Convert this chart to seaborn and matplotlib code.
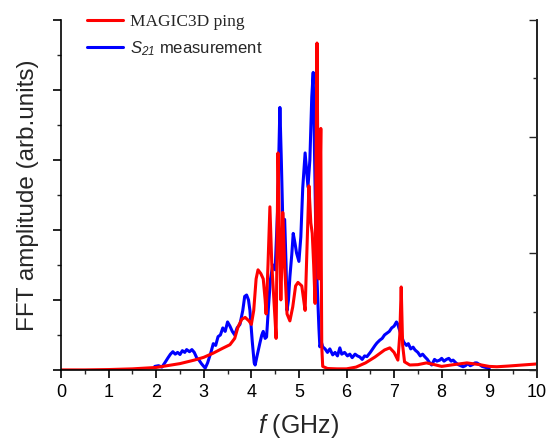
import matplotlib
matplotlib.use("Agg")
import matplotlib.pyplot as plt
import seaborn as sns
import pandas as pd
from matplotlib.ticker import MultipleLocator
from matplotlib.font_manager import FontProperties

# MAGIC3D ping (red)
sim_f = [0.0, 0.5, 1.0, 1.5, 2.0, 2.5, 2.8, 3.0, 3.2, 3.4, 3.55, 3.65, 3.72, 3.8, 3.87,
         3.95, 4.0, 4.05, 4.1, 4.14, 4.2, 4.25, 4.29, 4.31, 4.35, 4.39, 4.43, 4.5, 4.52,
         4.54, 4.56, 4.59, 4.62, 4.64, 4.66, 4.7, 4.75, 4.81, 4.87, 4.93, 4.98, 5.06, 5.1,
         5.13, 5.17, 5.21, 5.25, 5.28, 5.31, 5.34, 5.36, 5.38, 5.40, 5.42, 5.44, 5.46,
         5.47, 5.48, 5.5, 5.6, 5.8, 6.0, 6.2, 6.4, 6.6, 6.8, 6.91, 7.0, 7.08, 7.12, 7.15,
         7.18, 7.22, 7.33, 7.5, 7.68, 7.85, 8.0, 8.25, 8.53, 8.8, 9.0, 9.16, 9.4, 9.7, 10.0]
sim_amp = [0.0, 0.0, 0.001, 0.003, 0.007, 0.018, 0.028, 0.036, 0.048, 0.062, 0.072, 0.09,
           0.123, 0.145, 0.15, 0.14, 0.13, 0.17, 0.26, 0.286, 0.275, 0.26, 0.2, 0.16, 0.3,
           0.466, 0.3, 0.14, 0.09, 0.35, 0.62, 0.4, 0.2, 0.3, 0.45, 0.3, 0.16, 0.14, 0.18,
           0.24, 0.25, 0.24, 0.2, 0.17, 0.35, 0.526, 0.42, 0.39, 0.3, 0.19, 0.6, 0.934, 0.55,
           0.26, 0.5, 0.69, 0.3, 0.066, 0.01, 0.004, 0.003, 0.003, 0.008, 0.02, 0.037, 0.057,
           0.063, 0.05, 0.028, 0.1, 0.237, 0.07, 0.023, 0.014, 0.015, 0.02, 0.015, 0.01,
           0.015, 0.02, 0.015, 0.01, 0.009, 0.011, 0.014, 0.017]

# S21 measurement (blue)
meas_f = [1.97, 2.05, 2.12, 2.18, 2.25, 2.3, 2.35, 2.4, 2.45, 2.5, 2.55, 2.6, 2.64, 2.7,
          2.75, 2.8, 2.85, 2.9, 2.95, 3.0, 3.03, 3.08, 3.15, 3.2, 3.25, 3.3, 3.35, 3.4,
          3.45, 3.5, 3.55, 3.6, 3.65, 3.7, 3.76, 3.82, 3.86, 3.9, 3.94, 3.97, 4.02, 4.06,
          4.08, 4.12, 4.18, 4.22, 4.25, 4.29, 4.32, 4.36, 4.4, 4.45, 4.5, 4.55, 4.6, 4.63,
          4.66, 4.7, 4.73, 4.75, 4.78, 4.81, 4.85, 4.88, 4.92, 4.95, 5.0, 5.04, 5.08, 5.13,
          5.16, 5.19, 5.23, 5.27, 5.3, 5.33, 5.36, 5.38, 5.42, 5.44, 5.47, 5.5, 5.55, 5.6,
          5.65, 5.71, 5.76, 5.81, 5.86, 5.9, 5.96, 6.02, 6.07, 6.12, 6.18, 6.23, 6.28, 6.33,
          6.38, 6.43, 6.5, 6.55, 6.6, 6.64, 6.7, 6.75, 6.8, 6.85, 6.9, 6.95, 7.0, 7.05, 7.08,
          7.1, 7.15, 7.2, 7.26, 7.3, 7.35, 7.4, 7.44, 7.5, 7.55, 7.6, 7.65, 7.7, 7.75, 7.79,
          7.85, 7.9, 7.96, 8.0, 8.05, 8.1, 8.15, 8.2, 8.24, 8.3, 8.35, 8.4, 8.45, 8.5, 8.55,
          8.6, 8.65, 8.7, 8.74, 8.8, 8.85, 8.9, 8.95, 9.0]
meas_amp = [0.01, 0.012, 0.008, 0.02, 0.035, 0.045, 0.052, 0.045, 0.05, 0.044, 0.055, 0.05,
            0.058, 0.052, 0.058, 0.05, 0.035, 0.028, 0.018, 0.01, 0.005, 0.02, 0.05, 0.075,
            0.07, 0.095, 0.1, 0.12, 0.11, 0.137, 0.125, 0.11, 0.1, 0.12, 0.13, 0.17, 0.21,
            0.214, 0.2, 0.17, 0.08, 0.02, 0.014, 0.04, 0.077, 0.1, 0.11, 0.09, 0.094, 0.18,
            0.257, 0.3, 0.286, 0.45, 0.75, 0.6, 0.43, 0.43, 0.3, 0.17, 0.2, 0.266, 0.33, 0.39,
            0.36, 0.334, 0.31, 0.38, 0.52, 0.62, 0.57, 0.523, 0.6, 0.78, 0.85, 0.6, 0.35, 0.26,
            0.12, 0.066, 0.08, 0.066, 0.06, 0.05, 0.06, 0.043, 0.05, 0.04, 0.063, 0.045, 0.05,
            0.04, 0.045, 0.035, 0.045, 0.04, 0.037, 0.03, 0.04, 0.038, 0.05, 0.06, 0.07, 0.077,
            0.085, 0.09, 0.1, 0.105, 0.11, 0.12, 0.125, 0.137, 0.13, 0.12, 0.1, 0.08, 0.07,
            0.075, 0.06, 0.065, 0.057, 0.05, 0.04, 0.045, 0.037, 0.03, 0.02, 0.014, 0.03,
            0.025, 0.028, 0.033, 0.025, 0.03, 0.033, 0.025, 0.028, 0.02, 0.015, 0.012, 0.009,
            0.012, 0.018, 0.012, 0.015, 0.02, 0.02, 0.015, 0.01, 0.008, 0.006, 0.003]

sns.set_style("ticks")
plt.rcParams["font.family"] = ["Liberation Sans", "DejaVu Sans"]
plt.rcParams["mathtext.fontset"] = "custom"
plt.rcParams["mathtext.it"] = "Liberation Sans:italic"
# digits in math fall back to rm, so make rm italic too (S_21 is all italic)
plt.rcParams["mathtext.rm"] = "Liberation Sans:italic"

sim = pd.DataFrame({"f": sim_f, "amp": sim_amp})
meas = pd.DataFrame({"f": meas_f, "amp": meas_amp})

fig = plt.figure(figsize=(5.5, 4.43), dpi=100)
ax = fig.add_axes([0.111, 0.165, 0.865, 0.79])

sns.lineplot(data=meas, x="f", y="amp", ax=ax, color="#0000ff", linewidth=2.2,
             label=r"$S_{21}$ measurement")
sns.lineplot(data=sim, x="f", y="amp", ax=ax, color="#ff0000", linewidth=2.2,
             label="MAGIC3D ping")

ax.set_xlim(0, 10)
ax.set_ylim(0, 1)
ax.xaxis.set_major_locator(MultipleLocator(1))
ax.xaxis.set_minor_locator(MultipleLocator(0.5))
ax.yaxis.set_major_locator(MultipleLocator(0.2))
ax.yaxis.set_minor_locator(MultipleLocator(0.1))
ax.set_yticklabels([])
ax.tick_params(axis="both", which="major", direction="out", length=6, width=1.2,
               labelsize=13, colors="black", pad=4)
ax.tick_params(axis="both", which="minor", direction="out", length=3, width=1.0)
for s in ["left", "bottom", "right"]:
    ax.spines[s].set_linewidth(1.2)
    ax.spines[s].set_color("black")
ax.spines["top"].set_visible(False)

ax2 = ax.twinx()
ax2.set_ylim(0, 6)
ax2.yaxis.set_major_locator(MultipleLocator(2))
ax2.yaxis.set_minor_locator(MultipleLocator(1))
ax2.set_yticklabels([])
ax2.tick_params(axis="y", which="major", direction="in", length=6, width=1.0)
ax2.tick_params(axis="y", which="minor", direction="in", length=3, width=1.0)
for s in ["top", "left", "bottom"]:
    ax2.spines[s].set_visible(False)
ax2.spines["right"].set_linewidth(1.2)

ax.set_xlabel(r"$f$ (GHz)", fontsize=18, labelpad=8)
ax.set_ylabel("FFT amplitude (arb.units)", fontsize=17.5, labelpad=6)

handles, labels = ax.get_legend_handles_labels()
leg = ax.legend(handles[::-1], labels[::-1], loc="upper left", frameon=False,
                bbox_to_anchor=(0.022, 1.06), handlelength=2.2, handletextpad=0.4,
                labelspacing=0.55, fontsize=12)
leg.get_texts()[0].set_fontproperties(FontProperties(family="Liberation Serif", size=12.5))

fig.savefig("out.png", dpi=100)
